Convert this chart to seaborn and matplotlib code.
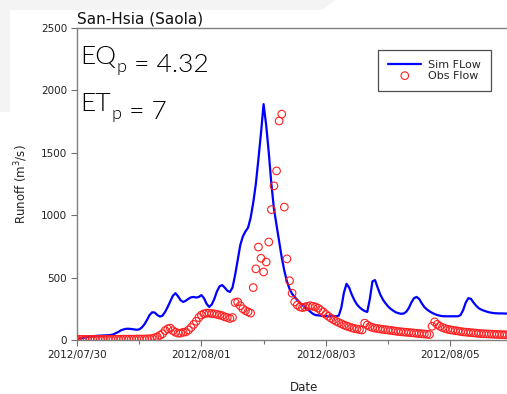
import numpy as np
import pandas as pd
import matplotlib
matplotlib.use("Agg")
import matplotlib.pyplot as plt
import matplotlib.dates as mdates
from matplotlib.patches import Polygon
import seaborn as sns

# Hourly runoff at San-Hsia during typhoon Saola (m^3/s), starting 2012/07/30 00:00
start_time = "2012-07-30 00:00"

sim_flow = [
    10, 12, 15, 20, 25, 28, 30, 32, 34, 35, 36, 37, 38, 40, 45, 55, 65, 78, 85, 90,
    90, 88, 85, 82, 85, 100, 125, 160, 200, 222, 220, 200, 188, 195, 225, 265, 310, 355, 375, 350,
    318, 305, 315, 330, 342, 345, 340, 345, 360, 335, 290, 265, 285, 330, 390, 430, 440, 420, 395, 385,
    420, 520, 640, 760, 830, 870, 900, 980, 1100, 1250, 1450, 1660, 1890, 1720, 1500, 1250, 1050, 920, 790, 660,
    555, 470, 410, 370, 345, 320, 300, 280, 262, 245, 228, 210, 200, 198, 195, 193, 192, 190, 190, 190,
    190, 195, 260, 380, 450, 420, 365, 320, 285, 262, 245, 232, 225, 330, 470, 480, 420, 365, 325, 295,
    270, 250, 235, 222, 215, 210, 212, 225, 255, 300, 335, 345, 330, 295, 265, 245, 230, 218, 208, 200,
    195, 191, 190, 190, 190, 190, 190, 190, 200, 240, 300, 335, 330, 300, 275, 255, 243, 235, 228, 222,
    218, 215, 214, 213, 213, 212, 212, 212,
]

obs_flow = [
    5, 5, 5, 5, 5, 5, 5, 5, 5, 5, 5, 5, 6, 6, 6, 6, 6, 6, 7, 7,
    7, 7, 7, 8, 8, 8, 8, 9, 10, 12, 18, 25, 38, 50, 75, 90, 95, 75, 62, 55,
    55, 62, 65, 80, 100, 125, 150, 180, 200, 210, 215, 215, 212, 210, 205, 200, 195, 185, 180, 172,
    180, 300, 305, 275, 250, 235, 225, 215, 420, 570, 745, 655, 545, 625, 785, 1045, 1235, 1355, 1755, 1810,
    1065, 650, 475, 375, 305, 280, 265, 260, 265, 270, 275, 270, 265, 255, 240, 225, 205, 190, 175, 162,
    150, 140, 130, 120, 112, 105, 98, 92, 88, 84, 80, 135, 120, 108, 100, 95, 92, 88, 85, 82,
    80, 77, 74, 71, 68, 66, 64, 62, 60, 58, 56, 54, 52, 50, 48, 46, 44, 110, 145, 125,
    110, 100, 92, 86, 82, 78, 75, 72, 68, 65, 63, 61, 59, 57, 55, 53, 51, 50, 49, 48,
    47, 46, 45, 44, 43, 42, 41, 40,
]

date_ticks = ["2012-07-30", "2012-08-01", "2012-08-03", "2012-08-05"]
y_ticks = [0, 500, 1000, 1500, 2000, 2500]

times = pd.date_range(start_time, periods=len(sim_flow), freq="h")
df = pd.DataFrame({"time": times, "sim": sim_flow, "obs": obs_flow})

sns.set_theme(style="white")
plt.rcParams["font.family"] = ["DejaVu Sans"]

W, H = 507, 394
fig = plt.figure(figsize=(W / 100, H / 100), dpi=100)

# faint slide-background shapes behind the chart
def px_poly(pts, color):
    return Polygon([(x / W, 1 - y / H) for x, y in pts], closed=True,
                   transform=fig.transFigure, facecolor=color, edgecolor="none", zorder=0)

fig.patches.append(px_poly([(0, 0), (335, 0), (322, 10), (0, 10)], "#f4f4f4"))
fig.patches.append(px_poly([(0, 10), (10, 10), (10, 112), (0, 112)], "#f4f4f4"))

ax = fig.add_axes([77 / W, 1 - 340 / H, 1 - 77 / W, (340 - 28) / H])
ax.set_facecolor("none")

sns.lineplot(data=df, x="time", y="sim", ax=ax, color="#0000ff", lw=1.6,
             label="Sim FLow", zorder=2)
sns.scatterplot(data=df, x="time", y="obs", ax=ax, marker="o", s=30,
                facecolor="none", edgecolor="#ff2020", linewidth=0.8,
                label="Obs Flow", zorder=3)

x0 = pd.Timestamp(start_time)
ax.set_xlim(x0, x0 + pd.Timedelta(days=(507 - 77) / 62.2))
ax.set_ylim(0, 2500)
ax.set_yticks(y_ticks)

ax.set_xticks([pd.Timestamp(d) for d in date_ticks])
ax.xaxis.set_major_formatter(mdates.DateFormatter("%Y/%m/%d"))
ax.xaxis.set_minor_locator(mdates.DayLocator())

ax.tick_params(axis="both", which="major", direction="out", length=4, width=0.8,
               color="#707070", labelsize=7.5, labelcolor="#222222", pad=3,
               bottom=True, left=True)
ax.tick_params(axis="x", which="minor", direction="out", length=3, width=0.8,
               color="#707070", bottom=True)

for side in ["left", "bottom", "top"]:
    ax.spines[side].set_color("#808080")
    ax.spines[side].set_linewidth(1.0)
ax.spines["right"].set_visible(False)

ax.set_xlabel("Date", fontsize=8.5, color="#222222")
ax.xaxis.set_label_coords((304 - 77) / (507 - 77), -0.13)
ax.set_ylabel("Runoff (m$^3$/s)", fontsize=8.5, color="#222222", labelpad=8)

ax.set_title("San-Hsia (Saola)", loc="left", fontsize=11, color="#111111", pad=3)

leg = ax.legend(loc="upper right", bbox_to_anchor=((491 - 77) / 430, 1 - (50 - 28) / 312),
                fontsize=8, frameon=True, fancybox=False, edgecolor="#222222",
                borderpad=0.9, handlelength=3.0, handletextpad=0.6,
                labelspacing=0.05, borderaxespad=0)
leg.get_frame().set_linewidth(0.9)

# Peak-error annotations
big = dict(fontsize=19, color="#000000", family=["Lato", "DejaVu Sans"], fontweight=300)
small = dict(fontsize=13, color="#000000", family=["Lato", "DejaVu Sans"], fontweight=300)
for label, value, ypix in [("EQ", "4.32", 64), ("ET", "7", 111)]:
    t1 = ax.text(80 / W, 1 - ypix / H, label, transform=fig.transFigure,
                 ha="left", va="baseline", **big)
    t2 = ax.annotate("p", xy=(1, 0), xycoords=t1, xytext=(0.5, -2.5),
                     textcoords="offset points", ha="left", va="baseline", **small)
    ax.annotate(" = " + value, xy=(1, 0), xycoords=t2, xytext=(0.5, 2.5),
                textcoords="offset points", ha="left", va="baseline", **big)

fig.savefig("out.png", dpi=100)
